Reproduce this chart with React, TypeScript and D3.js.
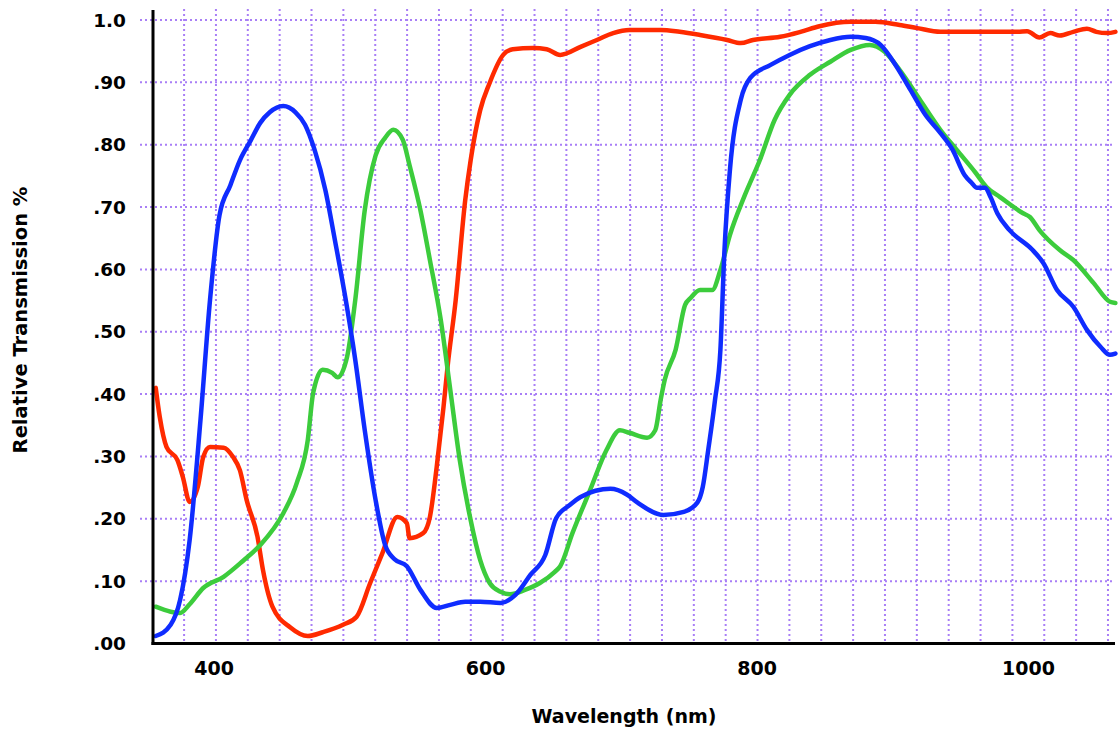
import * as d3 from "d3";
import { useEffect, useRef } from "react";

// wavelength (nm) / relative transmission
const blueNm = [357, 368, 375, 382, 390, 397, 404, 412, 419, 427, 434, 441, 451, 460, 467, 474, 482, 489, 497, 504, 511, 519, 526, 533, 542, 552, 564, 574, 585, 596, 611, 622, 633, 644, 652, 662, 670, 692, 704, 712, 731, 746, 756, 760, 764, 769, 773, 776, 780, 788, 795, 810, 824, 839, 854, 869, 880, 891, 902, 913, 924, 935, 944, 953, 958, 962, 968, 972, 977, 986, 1003, 1011, 1021, 1033, 1043, 1053, 1060, 1064];
const blueVal = [0.012, 0.03, 0.07, 0.166, 0.359, 0.551, 0.687, 0.735, 0.775, 0.807, 0.835, 0.852, 0.862, 0.852, 0.832, 0.792, 0.727, 0.647, 0.551, 0.455, 0.342, 0.23, 0.158, 0.135, 0.124, 0.086, 0.057, 0.062, 0.067, 0.067, 0.065, 0.078, 0.11, 0.142, 0.201, 0.222, 0.235, 0.248, 0.239, 0.226, 0.206, 0.211, 0.226, 0.251, 0.31, 0.39, 0.471, 0.631, 0.759, 0.872, 0.907, 0.928, 0.944, 0.958, 0.968, 0.973, 0.971, 0.96, 0.928, 0.888, 0.848, 0.819, 0.792, 0.751, 0.739, 0.731, 0.731, 0.716, 0.69, 0.663, 0.631, 0.61, 0.567, 0.54, 0.503, 0.476, 0.463, 0.465];

const greenNm = [357, 368, 375, 382, 392, 407, 421, 434, 451, 461, 469, 473, 480, 487, 491, 498, 504, 511, 519, 526, 532, 539, 544, 552, 559, 567, 574, 581, 589, 596, 603, 611, 618, 629, 640, 651, 655, 664, 677, 689, 699, 706, 719, 725, 729, 732, 740, 747, 751, 758, 767, 773, 780, 791, 802, 813, 824, 839, 854, 869, 883, 894, 905, 920, 935, 947, 961, 969, 979, 996, 1001, 1008, 1023, 1033, 1048, 1060, 1064];
const greenVal = [0.059, 0.051, 0.049, 0.063, 0.089, 0.107, 0.132, 0.158, 0.209, 0.258, 0.326, 0.402, 0.439, 0.434, 0.427, 0.46, 0.551, 0.695, 0.783, 0.811, 0.824, 0.808, 0.767, 0.695, 0.615, 0.519, 0.407, 0.294, 0.198, 0.134, 0.097, 0.083, 0.079, 0.086, 0.097, 0.115, 0.124, 0.177, 0.246, 0.31, 0.342, 0.338, 0.33, 0.342, 0.391, 0.423, 0.471, 0.543, 0.554, 0.567, 0.567, 0.599, 0.655, 0.719, 0.775, 0.84, 0.88, 0.912, 0.933, 0.952, 0.96, 0.949, 0.92, 0.872, 0.824, 0.792, 0.755, 0.732, 0.716, 0.69, 0.684, 0.663, 0.631, 0.615, 0.578, 0.548, 0.546];

const redNm = [357, 360, 365, 373, 377, 382, 388, 392, 397, 407, 414, 419, 424, 432, 436, 443, 456, 469, 480, 495, 505, 515, 524, 535, 542, 544, 554, 559, 564, 569, 572, 578, 585, 589, 596, 603, 613, 620, 635, 645, 655, 670, 682, 694, 706, 729, 743, 758, 778, 788, 797, 817, 832, 846, 869, 887, 905, 918, 935, 992, 999, 1008, 1016, 1023, 1033, 1043, 1050, 1058, 1064];
const redVal = [0.41, 0.363, 0.315, 0.294, 0.267, 0.227, 0.251, 0.299, 0.315, 0.314, 0.299, 0.278, 0.23, 0.171, 0.118, 0.059, 0.026, 0.012, 0.018, 0.03, 0.043, 0.097, 0.145, 0.203, 0.193, 0.169, 0.177, 0.203, 0.283, 0.379, 0.444, 0.551, 0.711, 0.775, 0.855, 0.899, 0.944, 0.953, 0.955, 0.953, 0.944, 0.957, 0.968, 0.979, 0.984, 0.984, 0.981, 0.976, 0.968, 0.963, 0.968, 0.973, 0.981, 0.99, 0.997, 0.997, 0.992, 0.987, 0.981, 0.981, 0.982, 0.972, 0.979, 0.975, 0.981, 0.986, 0.981, 0.979, 0.981];

const xTicks = [400, 600, 800, 1000];
const yTicks = [0, 0.1, 0.2, 0.3, 0.4, 0.5, 0.6, 0.7, 0.8, 0.9, 1.0];
const yTickLabels = [".00", ".10", ".20", ".30", ".40", ".50", ".60", ".70", ".80", ".90", "1.0"];

const series = [
	{ name: "red", nm: redNm, val: redVal, color: "#ff2a00" },
	{ name: "green", nm: greenNm, val: greenVal, color: "#3ccc3c" },
	{ name: "blue", nm: blueNm, val: blueVal, color: "#0f2cff" },
];

const width = 1120;
const height = 733;
const font = "'DejaVu Sans', sans-serif";

function App() {
	const ref = useRef<SVGSVGElement>(null);

	useEffect(() => {
		const svg = d3.select(ref.current);
		svg.selectAll("*").remove();

		const left = 153, right = 1115, top = 20, bottom = 643.5;

		const x = d3.scaleLinear().domain([355, 1063.7]).range([left, right]);
		const y = d3.scaleLinear().domain([0, 1]).range([bottom, top]);

		const gridColor = "#a97ff6";

		// vertical dotted grid
		const vGrid = d3.range(377.9, 1064, 23.47);
		svg.append("g")
			.selectAll("line")
			.data(vGrid)
			.enter()
			.append("line")
			.attr("x1", (d) => x(d))
			.attr("x2", (d) => x(d))
			.attr("y1", 9)
			.attr("y2", bottom)
			.attr("stroke", gridColor)
			.attr("stroke-width", 2)
			.attr("stroke-dasharray", "2,3");

		// horizontal dotted grid
		svg.append("g")
			.selectAll("line")
			.data(yTicks.slice(1))
			.enter()
			.append("line")
			.attr("x1", 140)
			.attr("x2", right)
			.attr("y1", (d) => y(d))
			.attr("y2", (d) => y(d))
			.attr("stroke", gridColor)
			.attr("stroke-width", 2)
			.attr("stroke-dasharray", "2,3");

		// curves
		const line = d3
			.line<[number, number]>()
			.x((d) => x(d[0]))
			.y((d) => y(d[1]))
			.curve(d3.curveMonotoneX);

		series.forEach((s) => {
			const pts: [number, number][] = s.nm.map((n, i) => [n, s.val[i]]);
			svg.append("path")
				.attr("d", line(pts))
				.attr("fill", "none")
				.attr("stroke", s.color)
				.attr("stroke-width", 4.5)
				.attr("stroke-linejoin", "round")
				.attr("stroke-linecap", "round");
		});

		// axes
		svg.append("line")
			.attr("x1", left).attr("x2", left)
			.attr("y1", 10).attr("y2", bottom + 1.5)
			.attr("stroke", "#000").attr("stroke-width", 3);
		svg.append("line")
			.attr("x1", left - 1.5).attr("x2", right)
			.attr("y1", bottom).attr("y2", bottom)
			.attr("stroke", "#000").attr("stroke-width", 3);

		// tick labels
		svg.append("g")
			.selectAll("text")
			.data(yTicks)
			.enter()
			.append("text")
			.attr("x", 126)
			.attr("y", (d) => y(d))
			.attr("dy", "0.36em")
			.attr("text-anchor", "end")
			.attr("font-family", font)
			.attr("font-weight", "bold")
			.attr("font-size", 18.5)
			.text((d, i) => yTickLabels[i]);

		svg.append("g")
			.selectAll("text")
			.data(xTicks)
			.enter()
			.append("text")
			.attr("x", (d) => x(d))
			.attr("y", 675)
			.attr("text-anchor", "middle")
			.attr("font-family", font)
			.attr("font-weight", "bold")
			.attr("font-size", 19)
			.text((d) => d);

		// axis titles
		svg.append("text")
			.attr("x", 624)
			.attr("y", 723)
			.attr("text-anchor", "middle")
			.attr("font-family", font)
			.attr("font-weight", "bold")
			.attr("font-size", 19)
			.text("Wavelength (nm)");

		svg.append("text")
			.attr("transform", "translate(27,320) rotate(-90)")
			.attr("text-anchor", "middle")
			.attr("font-family", font)
			.attr("font-weight", "bold")
			.attr("font-size", 19.5)
			.text("Relative Transmission %");
	}, []);

	return (
		<svg
			ref={ref}
			width={width}
			height={height}
			style={{ position: "absolute", left: 0, top: 0, background: "#fff" }}
		/>
	);
}

export default App;
